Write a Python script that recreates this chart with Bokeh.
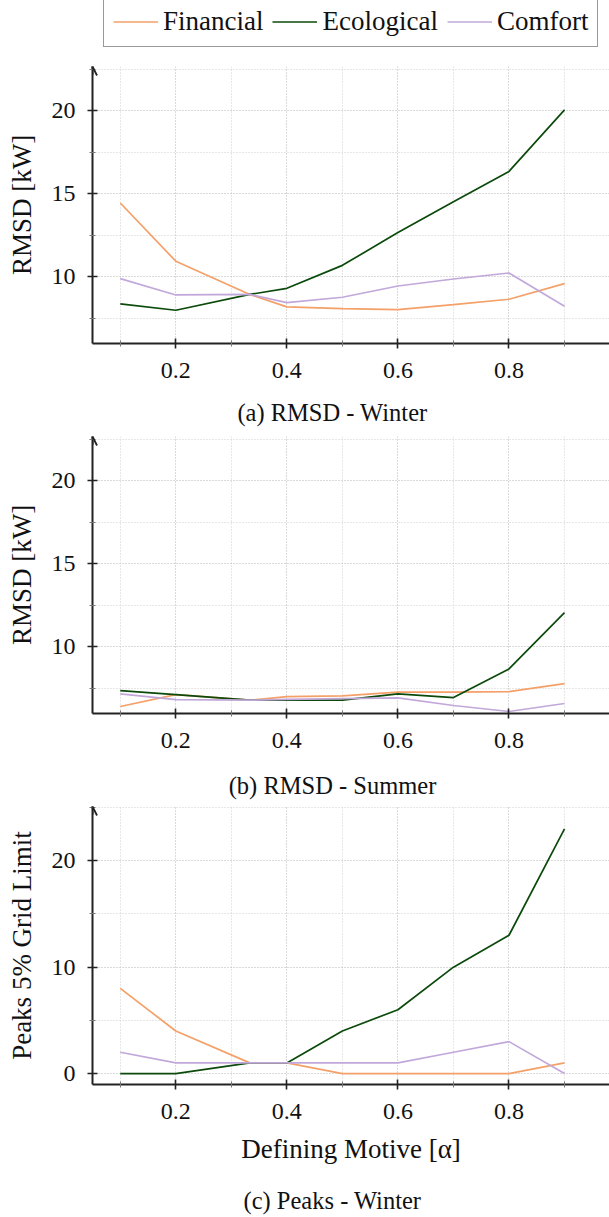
from bokeh.plotting import figure
from bokeh.models import (FixedTicker, Legend, LegendItem, Arrow, OpenHead, Range1d)
from bokeh.core.properties import value
from bokeh.layouts import column
from bokeh.embed import file_html
from bokeh.resources import INLINE

# ---------------- data ----------------
alpha = [0.1, 0.2, 1/3, 0.4, 0.5, 0.6, 0.7, 0.8, 0.9]
series_names = ["Financial", "Ecological", "Comfort"]

rmsd_winter_fin = [14.45, 10.95, 8.95, 8.2, 8.1, 8.04, 8.34, 8.66, 9.6]
rmsd_winter_eco = [8.38, 8.0, 8.95, 9.32, 10.7, 12.67, 14.52, 16.35, 20.05]
rmsd_winter_com = [9.9, 8.92, 8.95, 8.46, 8.78, 9.46, 9.88, 10.24, 8.24]

rmsd_summer_fin = [6.42, 7.14, 6.8, 7.02, 7.06, 7.28, 7.28, 7.32, 7.8]
rmsd_summer_eco = [7.38, 7.14, 6.8, 6.8, 6.8, 7.18, 6.96, 8.68, 12.07]
rmsd_summer_com = [7.18, 6.84, 6.8, 6.85, 6.9, 6.94, 6.48, 6.12, 6.6]

peaks_winter_fin = [8, 4, 1, 1, 0, 0, 0, 0, 1]
peaks_winter_eco = [0, 0, 1, 1, 4, 6, 10, 13, 23]
peaks_winter_com = [2, 1, 1, 1, 1, 1, 2, 3, 0]

x_major = [0.2, 0.4, 0.6, 0.8, 1.0]
x_minor = [0.1, 0.3, 0.5, 0.7, 0.9]
rmsd_major = [10, 15, 20]
rmsd_minor = [7.5, 12.5, 17.5, 22.5]
peaks_major = [0, 10, 20]
peaks_minor = [5, 15, 25]

captions = ["(a) RMSD - Winter", "(b) RMSD - Summer", "(c) Peaks - Winter"]
ylabels = ["RMSD [kW]", "RMSD [kW]", "Peaks 5% Grid Limit"]
xlabel = "Defining Motive [\u03b1]"

colors = ["#F4A068", "#0B4A0B", "#C2A8DA"]
FONT = "Liberation Serif"
AX = "#222222"
W = 609
LEFT = 92
NAN = float("nan")


def make_panel(height, top, bottom, yr, ymaj, ymin, ys, ylabel, with_xlabel=False):
    p = figure(width=W, height=height, output_backend="svg", toolbar_location=None,
               x_range=Range1d(0.05, 0.981), y_range=Range1d(*yr),
               min_border_left=LEFT, min_border_right=0,
               min_border_top=top, min_border_bottom=bottom)
    p.outline_line_color = None
    renderers = []
    for vals, c in zip(ys, colors):
        r = p.line(alpha, vals, line_color=c, line_width=1.7)
        renderers.append(r)

    p.xaxis.ticker = FixedTicker(ticks=x_major, minor_ticks=x_minor)
    p.yaxis.ticker = FixedTicker(ticks=ymaj, minor_ticks=ymin)
    p.xgrid.ticker = FixedTicker(ticks=x_major, minor_ticks=x_minor)
    p.ygrid.ticker = FixedTicker(ticks=ymaj, minor_ticks=ymin)
    for g in (p.xgrid, p.ygrid):
        g.grid_line_color = "#b5b5b5"
        g.grid_line_dash = "1 2"
        g.grid_line_width = 1
        g.minor_grid_line_color = "#cfcfcf"
        g.minor_grid_line_dash = "1 2"
        g.minor_grid_line_width = 1

    for ax in (p.xaxis, p.yaxis):
        ax.axis_line_color = AX
        ax.axis_line_width = 2
        ax.major_tick_line_color = AX
        ax.major_tick_line_width = 1.6
        ax.major_tick_in = 5
        ax.major_tick_out = 5
        ax.minor_tick_line_color = "#777777"
        ax.minor_tick_line_width = 1
        ax.minor_tick_in = 3
        ax.minor_tick_out = 3
        ax.major_label_text_font = FONT
        ax.major_label_text_font_size = "24px"
        ax.major_label_text_color = "#111111"
        ax.axis_label_text_font = FONT
        ax.axis_label_text_font_style = "normal"
        ax.axis_label_text_font_size = "27px"
        ax.axis_label_text_color = "#111111"

    p.xaxis.major_label_standoff = 14
    p.yaxis.major_label_standoff = 12
    p.yaxis.axis_label = ylabel
    p.yaxis.axis_label_standoff = 12
    p.xaxis.major_label_overrides = {1.0: ""}
    if with_xlabel:
        p.xaxis.axis_label = xlabel
        p.xaxis.axis_label_standoff = 12

    xr, yrr = p.x_range, p.y_range
    dy = (yrr.end - yrr.start) * 0.03
    p.add_layout(Arrow(end=OpenHead(size=9, line_color=AX, line_width=1.8),
                       x_start=xr.start, y_start=yrr.end - dy, x_end=xr.start, y_end=yrr.end,
                       line_color=AX, line_width=2))
    return p, renderers


def blank(height):
    # frames in a column are aligned, so this frame spans LEFT..W in page pixels
    c = figure(width=W, height=height, output_backend="svg", toolbar_location=None,
               x_range=Range1d(LEFT, W), y_range=Range1d(0, height),
               x_axis_location=None, y_axis_location=None,
               min_border=0, min_border_left=LEFT, min_border_right=0,
               min_border_top=0, min_border_bottom=0)
    c.grid.visible = False
    c.outline_line_color = None
    return c


def make_caption(text, height, yc):
    c = blank(height)
    c.text(x=[332], y=[yc], text=[text], text_font=value(FONT), text_font_size="24.5px",
           text_align="center", text_baseline="middle", text_color="#111111")
    return c


# legend strip on top
lg = blank(58)
lg_renderers = [lg.line(x=[NAN], y=[NAN], line_color=c, line_width=1.7) for c in colors]
legend = Legend(items=[LegendItem(label=n, renderers=[r]) for n, r in zip(series_names, lg_renderers)],
                location=(103 - LEFT, 11), orientation="horizontal")
legend.border_line_color = "#333333"
legend.border_line_width = 1.5
legend.background_fill_alpha = 1.0
legend.label_text_font = FONT
legend.label_text_font_size = "27px"
legend.label_text_color = "#111111"
legend.label_height = 25
legend.label_standoff = 5
legend.glyph_width = 45
legend.glyph_height = 25
legend.spacing = 9
legend.padding = 9
legend.margin = 0
lg.add_layout(legend, "center")

p1, r1 = make_panel(337, 8, 52, (6.0, 22.66), rmsd_major, rmsd_minor,
                    [rmsd_winter_fin, rmsd_winter_eco, rmsd_winter_com], ylabels[0])
c1 = make_caption(captions[0], 33, 16)
p2, r2 = make_panel(337, 8, 52, (6.0, 22.66), rmsd_major, rmsd_minor,
                    [rmsd_summer_fin, rmsd_summer_eco, rmsd_summer_com], ylabels[1])
c2 = make_caption(captions[1], 40, 20)
p3, r3 = make_panel(375, 1, 96, (-1.03, 25.1), peaks_major, peaks_minor,
                    [peaks_winter_fin, peaks_winter_eco, peaks_winter_com], ylabels[2],
                    with_xlabel=True)
c3 = make_caption(captions[2], 37, 17)

layout = column(lg, p1, c1, p2, c2, p3, c3, spacing=0)
open("out.html", "w").write(file_html(layout, INLINE))
